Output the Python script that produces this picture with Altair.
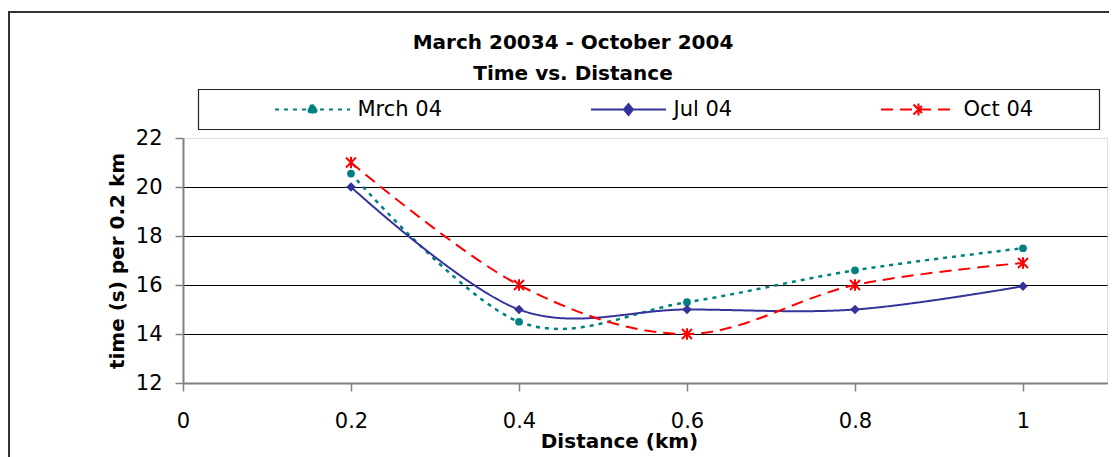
import altair as alt
import pandas as pd

# ---------------- data ----------------
distance = [0.2, 0.4, 0.6, 0.8, 1.0]
mrch_04 = [20.55, 14.5, 15.3, 16.6, 17.5]
jul_04 = [20.0, 15.0, 15.0, 15.0, 15.95]
oct_04 = [21.0, 16.0, 14.0, 16.0, 16.9]

series_names = ["Mrch 04", "Jul 04", "Oct 04"]
series_colors = ["#008080", "#333399", "#FF0000"]
series_dashes = [[4, 5], [1, 0], [12, 7]]
series_widths = [2.5, 2, 2]
x_ticks = [0, 0.2, 0.4, 0.6, 0.8, 1.0]
y_ticks = [12, 14, 16, 18, 20, 22]
title_lines = ["March 20034 - October 2004", "Time vs. Distance"]
x_title = "Distance (km)"
y_title = "time (s) per 0.2 km"

rows = []
for name, vals in zip(series_names, [mrch_04, jul_04, oct_04]):
    for d, v in zip(distance, vals):
        rows.append({"series": name, "distance": d, "time": v})
df = pd.DataFrame(rows)

FONT = "DejaVu Sans"

# plot-point markers and legend symbols (line + marker)
asterisk = "M-1,-1L1,1M-1,1L1,-1M0,-1.15L0,1.15"
point_marks = [
    dict(shape="circle", filled=True, size=60),
    dict(shape="diamond", filled=True, size=90),
    dict(shape=asterisk, filled=False, size=100),
]
legend_paths = [
    "M-3.75,0L3.75,0M-0.42,0A0.42,0.42 0 1,0 0.42,0A0.42,0.42 0 1,0 -0.42,0Z",
    "M-3.75,0L3.75,0M0,-0.55L0.45,0L0,0.55L-0.45,0Z",
    "M-3.75,0L3.75,0M-0.5,-0.5L0.5,0.5M-0.5,0.5L0.5,-0.5M0,-0.6L0,0.6",
]

x_enc = alt.X(
    "distance:Q",
    scale=alt.Scale(domain=[0, 1.1], nice=False, zero=False),
    axis=alt.Axis(
        values=x_ticks, format="~g", title=x_title, grid=False, labelFlush=False,
        labelFont=FONT, labelFontSize=21, labelColor="black", labelPadding=19,
        tickSize=8, tickColor="#808080", tickWidth=1.5,
        domainColor="#808080", domainWidth=2,
        titleFont=FONT, titleFontSize=20, titleFontWeight="bold", titleColor="black",
        titleX=436, titleY=64.5, titleAlign="center", titleBaseline="alphabetic",
    ),
)
y_enc = alt.Y(
    "time:Q",
    scale=alt.Scale(domain=[12, 22], nice=False, zero=False),
    axis=alt.Axis(
        values=y_ticks, title=y_title, grid=True, labelFlush=False,
        gridColor="#000000", gridWidth=1,
        gridOpacity={"condition": {"test": "datum.value >= 22", "value": 0}, "value": 1},
        labelFont=FONT, labelFontSize=21, labelColor="black", labelPadding=13,
        tickSize=8, tickColor="#808080", tickWidth=1.5,
        domainColor="#808080", domainWidth=2,
        titleFont=FONT, titleFontSize=20, titleFontWeight="bold", titleColor="black",
        titleAngle=270, titleX=-66, titleY=122.5, titleAlign="center", titleBaseline="middle",
    ),
)

layers = []

# decorations: chart-area border and legend frame
border = alt.Chart(alt.Data(values=[{}])).mark_rect(
    filled=False, stroke="#333333", strokeWidth=2
).encode(x=alt.value(-174), x2=alt.value(1300), y=alt.value(-126), y2=alt.value(700))
legend_box = alt.Chart(alt.Data(values=[{}])).mark_rect(
    filled=False, stroke="#222222", strokeWidth=1.2
).encode(x=alt.value(15.5), x2=alt.value(916.5), y=alt.value(-48.5), y2=alt.value(-8.5))
layers += [border, legend_box]

base = alt.Chart(df)
for i, name in enumerate(series_names):
    sub = base.transform_filter(alt.datum.series == name)
    line = sub.mark_line(
        interpolate="cardinal", color=series_colors[i],
        strokeDash=series_dashes[i], strokeWidth=series_widths[i],
    ).encode(x=x_enc, y=y_enc)
    pm = point_marks[i]
    if pm["filled"]:
        pt = sub.mark_point(shape=pm["shape"], filled=True, size=pm["size"],
                            color=series_colors[i], opacity=1)
    else:
        pt = sub.mark_point(shape=pm["shape"], filled=False, size=pm["size"],
                            color=series_colors[i], strokeWidth=2, opacity=1)
    layers += [line, pt.encode(x=x_enc, y=y_enc)]

# legend-only layer (no rows drawn)
dom = series_names
legend_layer = base.transform_filter("false").mark_point(filled=True, opacity=1).encode(
    x=x_enc, y=y_enc,
    color=alt.Color(
        "series:N",
        scale=alt.Scale(domain=dom, range=series_colors),
        legend=alt.Legend(
            title=None, orient="none", legendX=92, legendY=-39.5,
            direction="horizontal", symbolSize=400, symbolOffset=26.5,
            labelOffset=34, columnPadding=144, padding=0,
            labelFont=FONT, labelFontSize=21, labelColor="black", labelLimit=400,
            symbolStrokeWidth=2,
        ),
    ),
    stroke=alt.Stroke("series:N", scale=alt.Scale(domain=dom, range=series_colors), legend=alt.Legend(title=None)),
    shape=alt.Shape("series:N", scale=alt.Scale(domain=dom, range=legend_paths), legend=alt.Legend(title=None)),
    strokeDash=alt.StrokeDash("series:N", scale=alt.Scale(domain=dom, range=series_dashes), legend=alt.Legend(title=None)),
)
layers.append(legend_layer)

chart = alt.layer(*layers).properties(
    width=924,
    height=245,
    title=alt.TitleParams(
        text=title_lines, font=FONT, fontSize=20, fontWeight="bold", color="black",
        anchor="middle", frame="group", dx=-72, offset=-73.5, lineHeight=31.7,
    ),
    autosize=alt.AutoSizeParams(type="none"),
    padding={"left": 175, "top": 130, "right": 2, "bottom": 74},
).configure_view(stroke=None).configure(background="white")

chart.save("out.html", embed_options={"renderer": "svg", "actions": False})
